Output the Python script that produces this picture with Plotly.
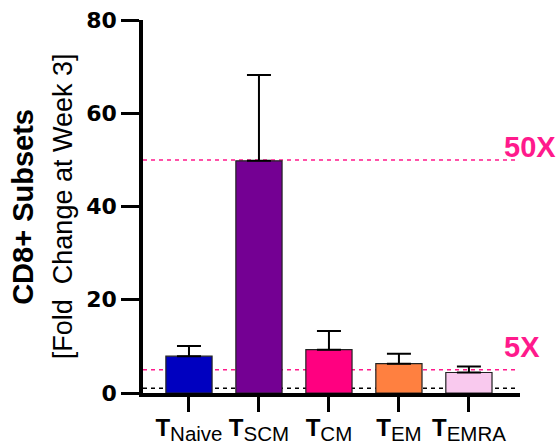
import plotly.graph_objects as go

categories = ["Naive", "SCM", "CM", "EM", "EMRA"]
means = [7.9, 49.8, 9.3, 6.3, 4.4]
errors_up = [2.2, 18.4, 4.0, 2.1, 1.3]
colors = ["#0000C0", "#740093", "#FF0080", "#FF8040", "#F9C9EE"]
y_ticks = [0, 20, 40, 60, 80]
ref_lines_pink = [50, 5]
ref_line_black = 1
ref_labels = ["50X", "5X"]

x_pos = list(range(len(categories)))
ticktext = [f"<b>T</b><sub><span style='font-size:20.5px'>{c}</span></sub>" for c in categories]
ytext = [f"<b>{v}</b>" for v in y_ticks]

fig = go.Figure()
fig.add_trace(go.Bar(
    x=x_pos, y=means, width=0.66,
    marker=dict(color=colors, line=dict(color="#222222", width=1.2)),
    error_y=dict(type="data", symmetric=False, array=errors_up,
                 arrayminus=[0] * len(means), color="black", thickness=2, width=12),
    showlegend=False,
))

x0, x1 = -0.657, 4.73
PINK = "#FF1A8C"
for v in ref_lines_pink:
    fig.add_shape(type="line", xref="x", yref="y", x0=x0, x1=4.7, y0=v, y1=v,
                  line=dict(color=PINK, width=1.5, dash="4px,4px"), layer="below")
fig.add_shape(type="line", xref="x", yref="y", x0=x0, x1=4.7, y0=ref_line_black, y1=ref_line_black,
              line=dict(color="black", width=1.5, dash="4px,4px"), layer="below")

label_y = [52.8, 9.9]
for lab, yy in zip(ref_labels, label_y):
    fig.add_annotation(x=4.471, y=yy, xref="x", yref="y", text=f"<b>{lab}</b>",
                       showarrow=False, xanchor="left", yanchor="middle",
                       font=dict(family="Liberation Sans, Arial", size=29, color=PINK))

fig.add_annotation(x=-0.32, y=0.5, xref="paper", yref="paper", text="<b>CD8+ Subsets</b>",
                   showarrow=False, textangle=-90, xanchor="center", yanchor="middle",
                   font=dict(family="Liberation Sans, Arial", size=29, color="black"))
fig.add_annotation(x=-0.213, y=0.5, xref="paper", yref="paper",
                   text="[Fold&nbsp; Change at Week 3]",
                   showarrow=False, textangle=-90, xanchor="center", yanchor="middle",
                   font=dict(family="Liberation Sans, Arial", size=27, color="black"))

fig.update_layout(
    width=557, height=448,
    margin=dict(l=143, r=37, t=20, b=55, autoexpand=False),
    plot_bgcolor="white", paper_bgcolor="white",
    xaxis=dict(range=[x0, x1], tickmode="array", tickvals=x_pos, ticktext=ticktext,
               showline=True, linecolor="black", linewidth=3.5, ticks="outside",
               ticklen=15, tickwidth=3, tickcolor="black", showgrid=False, zeroline=False,
               automargin=False, ticklabelstandoff=-5,
               tickfont=dict(family="Liberation Sans, Arial", size=24, color="black")),
    yaxis=dict(range=[0, 80], tickmode="array", tickvals=y_ticks, ticktext=ytext,
               showline=True, linecolor="black", linewidth=3.5, ticks="outside",
               ticklen=18, tickwidth=3, tickcolor="black", showgrid=False, zeroline=False,
               automargin=False,
               tickfont=dict(family="DejaVu Sans", size=22, color="black")),
)

fig.write_html("out.html")
